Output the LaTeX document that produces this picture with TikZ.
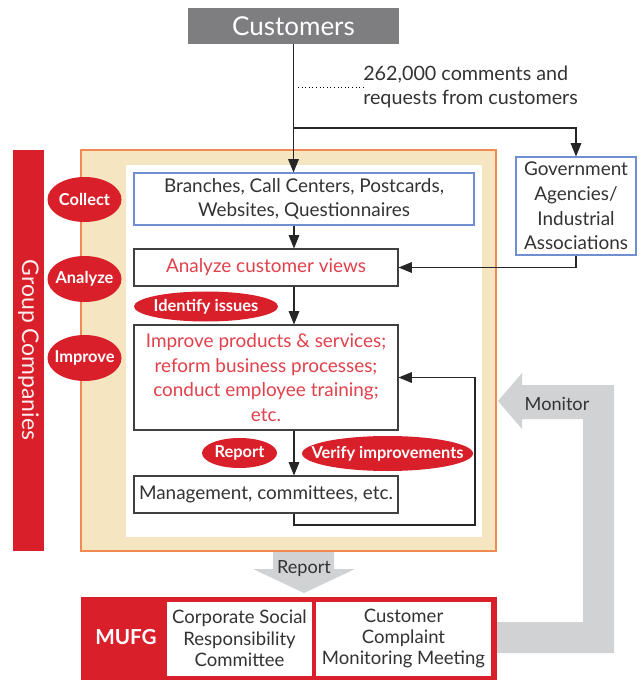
\documentclass[tikz,border=0pt]{standalone}
\usepackage{fontspec}
\setmainfont{Lato}
\usetikzlibrary{arrows.meta,shapes.geometric}
\definecolor{mred}{HTML}{D9202A}
\definecolor{tred}{HTML}{E2404B}
\definecolor{cgray}{HTML}{7E7E80}
\definecolor{lgray}{HTML}{D1D2D4}
\definecolor{beige}{HTML}{F5E5C0}
\definecolor{orng}{HTML}{F08A50}
\definecolor{bblue}{HTML}{6F8FD0}
\definecolor{dtext}{HTML}{333333}
\tikzset{
  box/.style={draw=black!75, line width=0.8pt, fill=white, inner sep=0pt, align=center, font=\fontsize{14.2}{18.5}\selectfont},
  bluebox/.style={box, draw=bblue},
  redlbl/.style={text=white, inner sep=0pt, font=\bfseries\fontsize{12.3}{13}\selectfont},
  redoval/.style={fill=mred},
  conn/.style={line width=0.8pt, draw=black!85},
  arr/.style={conn, -{Triangle[length=10pt,width=8pt]}},
}
\begin{document}
\begin{tikzpicture}[x=0.75pt,y=-0.75pt]
\useasboundingbox (0,0) rectangle (640,680);
% Customers
\node (cust) [fill=cgray, text=white, minimum width=158.25pt, minimum height=27pt, inner sep=0pt, font=\fontsize{19.5}{20}\selectfont] at (293.5,26) {Customers};
\coordinate (spine) at (294,0);
\coordinate (split) at (294,128);
% comments label
\node (cmt) [anchor=west, align=left, text=dtext, inner sep=0pt, font=\fontsize{14.8}{18}\selectfont] at (363,87) {262,000 comments and\\requests from customers};
\coordinate (dotstart) at (298,87);
\draw[dotted, line width=0.7pt] (dotstart) -- (cmt.west);
% Group companies bar
\fill[mred] (13,150) rectangle (44,551);
\node (gc) [rotate=-90, text=white!92!mred, inner sep=0pt, font=\fontsize{17.2}{18}\selectfont] at (28.5,350) {Group Companies};
% beige and white frames
\draw[fill=beige, draw=orng, line width=1pt] (81,150) rectangle (496,551);
\fill[white] (126,165) rectangle (482,537);
% Government box
\node (gov) [bluebox, text=dtext, minimum width=90pt, minimum height=73.5pt] at (576,206) {Government\\Agencies/\\Industrial\\Associations};
% process boxes
\node (branch) [bluebox, text=dtext, minimum width=255pt, minimum height=39pt] at (304,199) {Branches, Call Centers, Postcards,\\Websites, Questionnaires};
\node (analyze) [box, text=tred, minimum width=198pt, minimum height=27.75pt] at (266,267.5) {Analyze customer views};
\node (improve) [box, text=tred, minimum width=198pt, minimum height=78.75pt] at (266,377.5) {Improve products \& services;\\reform business processes;\\conduct employee training;\\etc.};
\node (mgmt) [box, text=dtext, minimum width=198pt, minimum height=27.75pt] at (266,494.5) {Management, committees, etc.};
% connectors
\draw[arr] (cust.south) -- (cust.south |- branch.north);
\draw[arr] (split) -| (gov.north);
\draw[arr] (branch.south -| spine) -- (analyze.north -| spine);
\draw[arr] (gov.south) |- (analyze.east);
\draw[arr] (analyze.south -| spine) -- (improve.north -| spine);
\draw[arr] (improve.south -| spine) -- (mgmt.north -| spine);
\coordinate (fbb) at (475,525);
\draw[arr] (mgmt.south -| spine) |- (fbb) |- (improve.east);
% red labels
\fill[redoval] (84.5,199.5) ellipse [x radius=37, y radius=22.5];
\fill[redoval] (84.5,279) ellipse [x radius=37, y radius=23];
\fill[redoval] (84.5,358) ellipse [x radius=37, y radius=23];
\fill[redoval] (206,306.5) ellipse [x radius=72, y radius=15];
\fill[redoval] (239.5,453) ellipse [x radius=37.5, y radius=15];
\fill[redoval] (387.5,453.5) ellipse [x radius=85.5, y radius=17.5];
\node (lcollect) [redlbl] at (84.5,199.5) {Collect};
\node (lanalyze) [redlbl] at (84.5,279) {Analyze};
\node (limprove) [redlbl] at (84.5,358) {Improve};
\node (lident) [redlbl] at (206,306.5) {Identify issues};
\node (lreport) [redlbl] at (239.5,453) {Report};
\node (lverify) [redlbl] at (387.5,453.5) {Verify improvements};
% Monitor arrow
\fill[lgray] (498,401) -- (522,373) -- (522,385) -- (614,385) -- (614,653) -- (496,653) -- (496,622) -- (583,622) -- (583,419) -- (522,419) -- (522,429) -- cycle;
\node (mon) [text=dtext, inner sep=0pt, font=\fontsize{13.6}{14}\selectfont] at (557,404) {Monitor};
% Report arrow
\fill[lgray] (273,552) -- (334,552) -- (334,569) -- (355,569) -- (304,593) -- (253,569) -- (273,569) -- cycle;
\node (rep) [text=dtext, inner sep=0pt, font=\fontsize{13.6}{14}\selectfont] at (304,569) {Report};
% MUFG
\fill[mred] (81,597) rectangle (497,680);
\node (mufg) [text=white, inner sep=0pt, font=\bfseries\fontsize{15.5}{16}\selectfont] at (126,637) {MUFG};
\node (csr) [fill=white, inner sep=0pt, align=center, text=dtext, minimum width=108.75pt, minimum height=55.5pt, font=\fontsize{13.9}{16}\selectfont] at (239.5,638.5) {Corporate Social\\Responsibility\\Committee};
\node (ccm) [fill=white, inner sep=0pt, align=center, text=dtext, minimum width=131.25pt, minimum height=55.5pt, font=\fontsize{13.9}{16}\selectfont] at (403.5,638.5) {Customer\\Complaint\\Monitoring Meeting};
\end{tikzpicture}
\end{document}
